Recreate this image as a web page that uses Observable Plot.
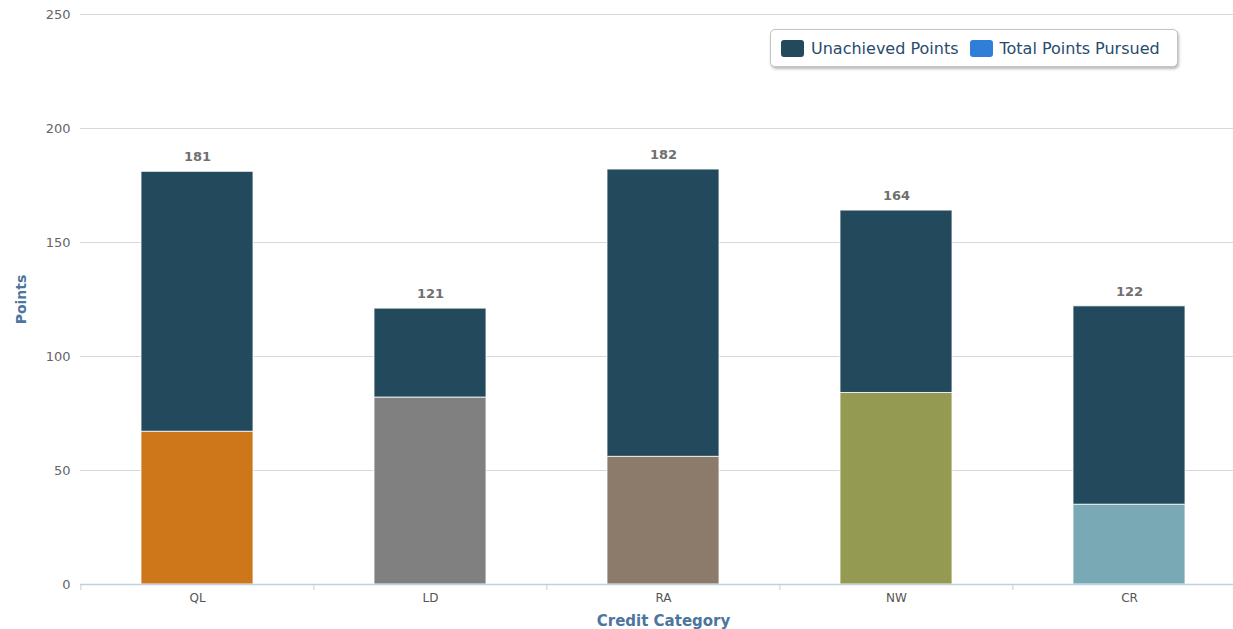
<!DOCTYPE html>
<html>
<head>
<meta charset="utf-8">
<script src="https://cdn.jsdelivr.net/npm/d3@7"></script>
<script src="https://cdn.jsdelivr.net/npm/@observablehq/plot@0.6"></script>
<style>
  html, body { margin: 0; padding: 0; background: #fff; overflow: hidden; }
  #wrap { position: relative; width: 1246px; height: 629px; font-family: "DejaVu Sans", sans-serif; }
  #legend {
    position: absolute; left: 770px; top: 29px; width: 408px; height: 38px;
    border: 1px solid #c4c4c4; border-radius: 5px; background: #fff;
    box-shadow: 1px 2px 3px rgba(0,0,0,0.28);
    display: flex; align-items: center; box-sizing: border-box; padding-left: 10px;
    font-size: 16px; color: #274b6d;
  }
  .item { display: flex; align-items: center; margin-right: 11px; }
  .sw { width: 23px; height: 17px; border-radius: 3px; margin-right: 7px; }
</style>
</head>
<body>
<div id="wrap"><div id="legend"></div></div>
<script>
// ---- data ----
const categories = ["QL", "LD", "RA", "NW", "CR"];
const pursuedPoints = [67, 82, 56, 84, 35];
const unachievedPoints = [114, 39, 126, 80, 87];
const categoryColors = ["#cd761a", "#808080", "#8c7a6b", "#959a53", "#78a9b4"];
const seriesNames = ["Unachieved Points", "Total Points Pursued"];
const seriesColors = ["#234a5c", "#2f7ed8"];
const yTicks = [0, 50, 100, 150, 200, 250];

// ---- table ----
const rows = [];
categories.forEach((c, i) => {
  rows.push({cat: c, series: seriesNames[1], value: pursuedPoints[i], color: categoryColors[i], order: 0});
  rows.push({cat: c, series: seriesNames[0], value: unachievedPoints[i], color: seriesColors[0], order: 1});
});
const totals = categories.map((c, i) => ({cat: c, total: pursuedPoints[i] + unachievedPoints[i]}));

const W = 1246, ML = 80;
const step = (W - ML) / categories.length;

const chart = Plot.plot({
  width: W,
  height: 629,
  marginLeft: ML,
  marginRight: 0,
  marginTop: 14,
  marginBottom: 45,
  style: {fontFamily: '"DejaVu Sans", sans-serif', fontSize: "12px", color: "#666"},
  x: {domain: categories, paddingInner: 0.52, paddingOuter: 0.26, label: null},
  y: {domain: [0, 250], label: null},
  marks: [
    Plot.gridY(yTicks, {stroke: "#d8d8d8", strokeOpacity: 1, strokeWidth: 1}),
    Plot.barY(rows, Plot.stackY({
      x: "cat", y: "value", fill: "color", order: "order",
      stroke: "#ffffff", strokeWidth: 1, strokeOpacity: 0.8
    })),
    Plot.ruleY([0], {stroke: "#c0d0e0", strokeWidth: 1.5}),
    Plot.ruleX(categories, {x: d => d, dx: -step / 2, y1: 0, y2: 0, insetBottom: -6, stroke: "#c0d0e0"}),
    Plot.axisY(yTicks, {tickSize: 0, tickPadding: 10, fontSize: 13, fill: "#666", letterSpacing: 1, label: null}),
    Plot.axisX({tickSize: 0, tickPadding: 9, fontSize: 12, fill: "#555", label: null}),
    Plot.text(totals, {x: "cat", y: "total", text: d => String(d.total), dy: -15, fontWeight: "bold", fontSize: 13, fill: "#707070", letterSpacing: 0.3, stroke: "#fff", strokeWidth: 2, paintOrder: "stroke"}),
    Plot.text(["Points"], {frameAnchor: "left", dx: -59, rotate: -90, textAnchor: "middle", fontWeight: "bold", fontSize: 14, fill: "#4d759e"}),
    Plot.text(["Credit Category"], {frameAnchor: "bottom", dy: 41, textAnchor: "middle", fontWeight: "bold", fontSize: 15, fill: "#4d759e"})
  ]
});

document.getElementById("wrap").prepend(chart);
chart.style.position = "absolute";
chart.style.left = "0";
chart.style.top = "0";

const legend = document.getElementById("legend");
seriesNames.forEach((n, i) => {
  const it = document.createElement("div");
  it.className = "item";
  const sw = document.createElement("div");
  sw.className = "sw";
  sw.style.background = seriesColors[i];
  const t = document.createElement("span");
  t.textContent = n;
  it.append(sw, t);
  legend.append(it);
});
</script>
</body>
</html>
